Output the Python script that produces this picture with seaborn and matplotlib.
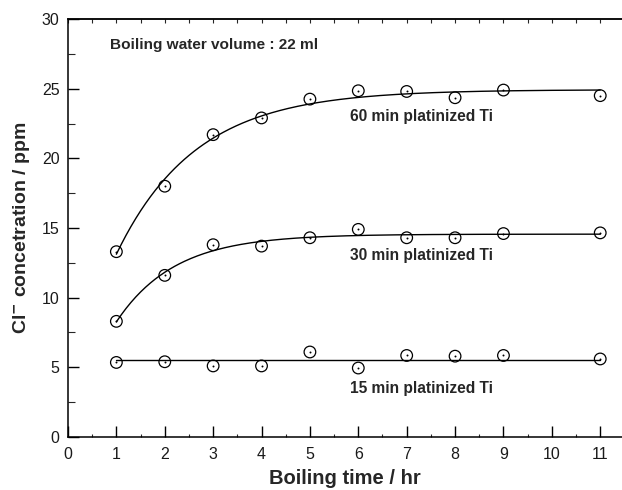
import numpy as np
import pandas as pd
import matplotlib
matplotlib.use("Agg")
import matplotlib.pyplot as plt
from matplotlib.ticker import MultipleLocator
import seaborn as sns

# Measured chloride concentration (ppm) vs boiling time (hr)
hours = [1, 2, 3, 4, 5, 6, 7, 8, 9, 11]
pt_60min = [13.3, 18.0, 21.7, 22.9, 24.25, 24.85, 24.8, 24.35, 24.9, 24.5]
pt_30min = [8.3, 11.6, 13.8, 13.7, 14.3, 14.9, 14.3, 14.3, 14.6, 14.65]
pt_15min = [5.35, 5.4, 5.1, 5.1, 6.1, 4.95, 5.85, 5.8, 5.85, 5.6]

series_names = ["60 min platinized Ti", "30 min platinized Ti", "15 min platinized Ti"]
series_values = [pt_60min, pt_30min, pt_15min]
fit_models = ["exp", "exp", "const"]

x_ticks = list(range(0, 12))
y_ticks = [0, 5, 10, 15, 20, 25, 30]

sns.set_theme(style="ticks")
plt.rcParams["font.family"] = ["Liberation Sans", "DejaVu Sans"]
plt.rcParams["mathtext.default"] = "regular"

fig = plt.figure(figsize=(6.22, 4.90), dpi=100)
ax = fig.add_axes([0.1093, 0.1082, 0.8907, 0.853])


def fit_curve(x, y, model, xs):
    x = np.asarray(x, float)
    y = np.asarray(y, float)
    if model == "const":
        return np.full_like(xs, y.mean())
    # saturating exponential  y = a - b * exp(-k x), k by grid search
    best = None
    for k in np.linspace(0.05, 3.0, 600):
        A = np.column_stack([np.ones_like(x), -np.exp(-k * x)])
        coef, *_ = np.linalg.lstsq(A, y, rcond=None)
        sse = np.sum((A @ coef - y) ** 2)
        if best is None or sse < best[0]:
            best = (sse, k, coef)
    _, k, (a, b) = best
    return a - b * np.exp(-k * xs)


xs = np.linspace(min(hours), max(hours), 300)
for name, vals, model in zip(series_names, series_values, fit_models):
    df = pd.DataFrame({"hours": hours, "ppm": vals})
    fit_df = pd.DataFrame({"hours": xs, "ppm": fit_curve(hours, vals, model, xs)})
    sns.lineplot(data=fit_df, x="hours", y="ppm", ax=ax, color="black",
                 linewidth=1.0, estimator=None, sort=False)
    sns.scatterplot(data=df, x="hours", y="ppm", ax=ax, marker="o", s=70,
                    facecolor="none", edgecolor="black", linewidth=0.9, zorder=3)
    sns.scatterplot(data=df, x="hours", y="ppm", ax=ax, marker="o", s=2,
                    color="black", linewidth=0, zorder=4)

ax.set_xlim(0, 11.45)
ax.set_ylim(0, 30)
ax.set_xticks(x_ticks)
ax.set_yticks(y_ticks)
ax.xaxis.set_minor_locator(MultipleLocator(0.5))
ax.yaxis.set_minor_locator(MultipleLocator(2.5))
ax.tick_params(axis="both", which="major", direction="in", length=8, width=1.0,
               labelsize=11.5, labelcolor="#1a1a1a", color="black")
ax.tick_params(axis="x", which="major", pad=7)
ax.tick_params(axis="y", which="major", pad=6)
ax.tick_params(axis="x", which="minor", direction="in", length=2, width=0.8)
ax.tick_params(axis="y", which="minor", direction="in", length=5, width=0.8)

for side in ["left", "bottom", "top"]:
    ax.spines[side].set_linewidth(1.1)
    ax.spines[side].set_color("black")
ax.spines["right"].set_visible(False)

top = ax.secondary_xaxis("top")
top.xaxis.set_major_locator(MultipleLocator(0.5))
top.tick_params(direction="in", length=3, width=0.8, labeltop=False)
top.spines["top"].set_linewidth(1.1)

ax.set_xlabel("Boiling time / hr", fontsize=14.5, fontweight="bold", labelpad=5)
ax.set_ylabel(r"Cl$^{\mathbf{-}}$ concetration / ppm", fontsize=14,
              fontweight="bold", labelpad=7)

ax.text(0.87, 28.1, "Boiling water volume : 22 ml", fontsize=11.1,
        fontweight="bold", va="center", ha="left")
label_y = [23.0, 13.0, 3.5]
for name, ly in zip(series_names, label_y):
    ax.text(5.83, ly, name, fontsize=11.2, fontweight="bold", va="center", ha="left")

fig.savefig("out.png", dpi=100)
